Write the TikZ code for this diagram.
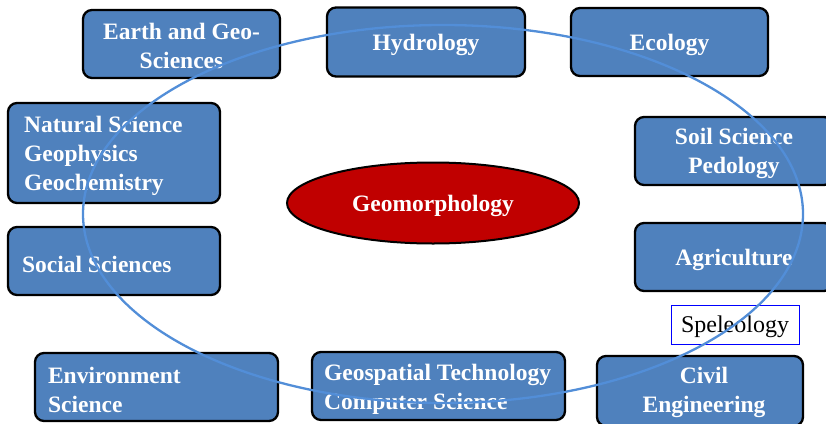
\documentclass[tikz,border=0pt]{standalone}
\usepackage{fontspec}
\setmainfont{Liberation Serif}
\usetikzlibrary{shapes.geometric}
\definecolor{boxblue}{RGB}{79,129,189}
\definecolor{ringblue}{RGB}{82,142,216}
\definecolor{coreRed}{RGB}{192,0,0}
\tikzset{
  topic/.style={draw=black, line width=2.3pt, fill=boxblue, rounded corners=9pt, inner sep=0pt},
  topictext/.style={text=white, font=\bfseries\fontsize{23.5}{29}\selectfont, inner sep=0pt},
  lefttext/.style={topictext, align=left, anchor=west},
  centertext/.style={topictext, align=center},
}
\begin{document}
\begin{tikzpicture}[x=1pt,y=-1pt]
\useasboundingbox (0,0) rectangle (826,423);
% boxes
\node[topic, minimum width=197pt, minimum height=68pt] (earth) at (181.5,44) {};
\node[topic, minimum width=198pt, minimum height=69pt] (hydro) at (426,42) {};
\node[topic, minimum width=197pt, minimum height=68pt] (eco) at (669.5,42) {};
\node[topic, minimum width=198pt, minimum height=68pt] (soil) at (734,151) {};
\node[topic, minimum width=198pt, minimum height=68pt] (agri) at (734,257) {};
\node[topic, minimum width=206pt, minimum height=70pt] (civil) at (700,391) {};
\node[topic, minimum width=212pt, minimum height=100pt] (nat) at (114,153) {};
\node[topic, minimum width=212pt, minimum height=68pt] (social) at (114,261) {};
\node[topic, minimum width=243pt, minimum height=68pt] (env) at (156.5,387) {};
\node[topic, minimum width=253pt, minimum height=68pt] (geo) at (438.5,386) {};
% texts
\node[centertext] (earthT) at ([yshift=-2pt]earth.center) {Earth and Geo-\\Sciences};
\node[centertext] (hydroT) at ([yshift=-2.5pt]hydro.center) {Hydrology};
\node[centertext] (ecoT) at ([yshift=-2.5pt]eco.center) {Ecology};
\node[centertext] (soilT) at ([yshift=-2pt]soil.center) {Soil Science\\Pedology};
\node[centertext] (agriT) at ([yshift=-2.5pt]agri.center) {Agriculture};
\node[centertext] (civilT) at ([xshift=4pt,yshift=-1pt]civil.center) {Civil\\Engineering};
\node[lefttext] (natT) at ([xshift=17pt,yshift=-3pt]nat.west) {Natural Science\\Geophysics\\Geochemistry};
\node[lefttext] (socialT) at ([xshift=15pt,yshift=-3pt]social.west) {Social Sciences};
\node[lefttext] (envT) at ([xshift=14pt,yshift=-3pt]env.west) {Environment\\Science};
\node[lefttext] (geoT) at ([xshift=13pt,yshift=-3pt]geo.west) {Geospatial Technology\\Computer Science};
% centre
\node[ellipse, draw=black, line width=2pt, fill=coreRed, minimum width=292pt, minimum height=81pt,
  inner sep=0pt] (core) at (433,203) {};
\node[text=white, font=\bfseries\fontsize{23.5}{28}\selectfont, inner sep=0pt] (coreT)
  at ([yshift=-2.5pt]core.center) {Geomorphology};
% speleology
\node[draw=blue, line width=0.9pt, fill=white, minimum width=128pt, minimum height=39pt,
  inner sep=0pt] (spel) at (735,324.5) {};
\node[font=\fontsize{24}{29}\selectfont, inner sep=0pt] (spelT) at ([yshift=-2.5pt]spel.center) {Speleology};
% ring
\coordinate (ringc) at (443,214);
\draw[ringblue, line width=2.3pt] (ringc) ellipse [x radius=360, y radius=189];
\end{tikzpicture}
\end{document}
